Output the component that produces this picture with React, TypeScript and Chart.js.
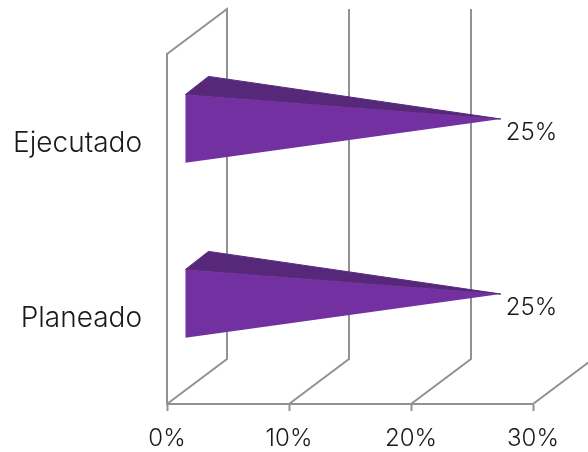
import React, { useEffect, useRef } from "react";
import { Chart, registerables } from "chart.js";

Chart.register(...registerables);

const categories = ["Ejecutado", "Planeado"];
const values = [25, 25];
const xTicks = [0, 10, 20, 30];

const FONT = "Inter, Lato, sans-serif";
const GRID = "#929292";
const FRONT = "#7230a0";
const TOP = "#572879";
const TEXT = "#1a1a1a";
const DEPTH_X = 60;
const DEPTH_Y = 45;

const frame3d = {
  id: "frame3d",
  beforeDatasetsDraw(chart: any) {
    const { ctx, chartArea, scales } = chart;
    const { top, bottom } = chartArea;
    ctx.save();
    ctx.strokeStyle = GRID;
    ctx.lineWidth = 2;
    xTicks.forEach((t) => {
      const x = scales.x.getPixelForValue(t);
      ctx.beginPath();
      ctx.moveTo(x, bottom);
      ctx.lineTo(x + DEPTH_X, bottom - DEPTH_Y);
      ctx.lineTo(x + DEPTH_X, top - DEPTH_Y);
      if (t === 0) ctx.lineTo(x, top);
      ctx.stroke();
    });
    ctx.restore();
  },
};

const cones3d = {
  id: "cones3d",
  afterDatasetsDraw(chart: any) {
    const { ctx } = chart;
    const meta = chart.getDatasetMeta(0);
    ctx.save();
    meta.data.forEach((bar: any, i: number) => {
      const h = bar.height;
      const baseX = bar.base + DEPTH_X * 0.3;
      const baseTop = bar.y - DEPTH_Y * 0.3 - h / 2 + 0.5;
      const baseBottom = baseTop + h;
      const backX = baseX + 23;
      const backY = baseTop - 18;
      const tipX = bar.x + DEPTH_X * 0.48;
      const tipY = bar.y - DEPTH_Y * 0.5;

      ctx.fillStyle = TOP;
      ctx.strokeStyle = TOP;
      ctx.lineWidth = 1;
      ctx.beginPath();
      ctx.moveTo(baseX, baseTop);
      ctx.lineTo(backX, backY);
      ctx.lineTo(tipX, tipY);
      ctx.closePath();
      ctx.fill();
      ctx.stroke();

      ctx.fillStyle = FRONT;
      ctx.beginPath();
      ctx.moveTo(baseX, baseTop);
      ctx.lineTo(baseX, baseBottom);
      ctx.lineTo(tipX, tipY);
      ctx.closePath();
      ctx.fill();

      ctx.fillStyle = TEXT;
      ctx.font = `300 24px ${FONT}`;
      ctx.textAlign = "left";
      ctx.textBaseline = "middle";
      ctx.fillText(`${values[i]}%`, tipX + 5, tipY + 14);
    });
    ctx.restore();
  },
};

export default function App() {
  const ref = useRef<HTMLCanvasElement>(null);

  useEffect(() => {
    const chart = new Chart(ref.current as HTMLCanvasElement, {
      type: "bar",
      data: {
        labels: categories,
        datasets: [
          {
            data: values,
            backgroundColor: "rgba(0,0,0,0)",
            borderWidth: 0,
            barPercentage: 0.39,
            categoryPercentage: 1,
          },
        ],
      },
      options: {
        indexAxis: "y",
        animation: false,
        responsive: false,
        layout: { padding: { top: 54, right: 55, left: 0, bottom: 0 } },
        plugins: { legend: { display: false }, tooltip: { enabled: false }, title: { display: false } },
        scales: {
          x: {
            type: "linear",
            min: 0,
            max: 30,
            afterFit: (s: any) => {
              s.height = 48;
            },
            afterBuildTicks: (s: any) => {
              s.ticks = xTicks.map((value) => ({ value }));
            },
            border: { display: true, color: GRID, width: 2 },
            grid: { drawOnChartArea: false, drawTicks: true, tickLength: 7, tickColor: GRID, tickWidth: 2 },
            ticks: {
              color: TEXT,
              font: { family: FONT, size: 24, weight: "300" },
              padding: 13,
              maxRotation: 0,
              callback: (v: any) => `${v}%`,
            },
          },
          y: {
            type: "category",
            afterFit: (s: any) => {
              s.width = 167;
            },
            border: { display: true, color: GRID, width: 2 },
            grid: { display: false, drawTicks: false },
            ticks: {
              color: TEXT,
              font: { family: FONT, size: 28, weight: "300" },
              padding: 25,
              labelOffset: 2,
            },
          },
        },
      },
      plugins: [frame3d, cones3d],
    } as any);
    return () => chart.destroy();
  }, []);

  return (
    <div style={{ position: "absolute", left: 0, top: 0, width: 588, height: 452, background: "#fff" }}>
      <canvas ref={ref} width={588} height={452} style={{ display: "block" }} />
    </div>
  );
}
